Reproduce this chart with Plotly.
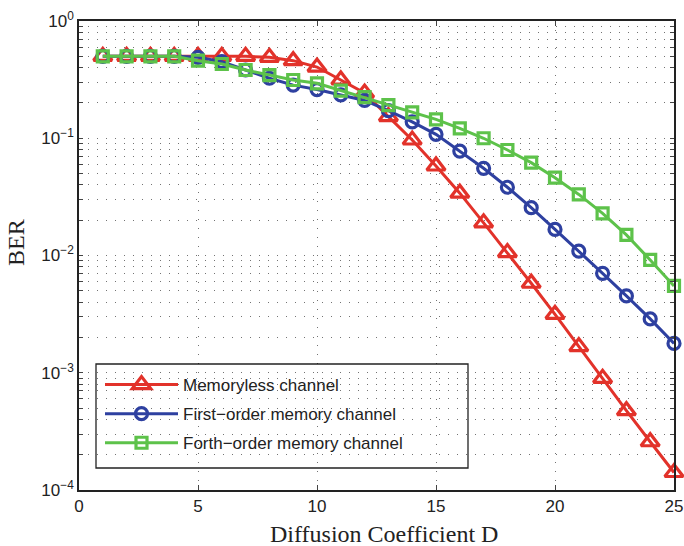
import plotly.graph_objects as go

D = list(range(1, 26))
memoryless = [0.50, 0.50, 0.50, 0.50, 0.50, 0.50, 0.50, 0.49, 0.459, 0.405, 0.314, 0.243,
               0.153, 0.0966, 0.058, 0.034, 0.019, 0.0106, 0.0058, 0.00315, 0.00167,
               0.000897, 0.000475, 0.000258, 0.000141]
first_order = [0.50, 0.50, 0.50, 0.50, 0.49, 0.45, 0.382, 0.325, 0.284, 0.26, 0.234, 0.21,
               0.172, 0.138, 0.108, 0.0778, 0.0554, 0.0382, 0.0256, 0.0167, 0.0109,
               0.00705, 0.00452, 0.00288, 0.00178]
forth_order = [0.50, 0.50, 0.50, 0.50, 0.459, 0.43, 0.382, 0.346, 0.314, 0.294, 0.255, 0.224,
               0.192, 0.166, 0.145, 0.1216, 0.10, 0.0794, 0.0619, 0.0461, 0.0332,
               0.0229, 0.015, 0.00916, 0.0055]

names = ["Memoryless channel", "First−order memory channel", "Forth−order memory channel"]
x_ticks = [0, 5, 10, 15, 20, 25]
y_exponents = [-4, -3, -2, -1, 0]
x_title = "Diffusion Coefficient D"
y_title = "BER"

red, blue, green = "#E2322A", "#2E40A0", "#5DC24A"

fig = go.Figure()
for i, (ys, nm, col, sym, sz) in enumerate([
    (memoryless, names[0], red, "triangle-up-open", 16),
    (first_order, names[1], blue, "circle-open", 12),
    (forth_order, names[2], green, "square-open", 11),
]):
    fig.add_trace(go.Scatter(
        x=D, y=ys, name=nm, mode="lines+markers", cliponaxis=False,
        legendgroup=f"g{i}",
        line=dict(color=col, width=3),
        marker=dict(symbol=sym, size=sz, color=col, line=dict(color=col, width=3.2)),
    ))

# y tick positions incl. minor (2..9 per decade)
tickvals, ticktext = [], []
for e in y_exponents:
    for m in range(1, 10):
        v = m * 10.0 ** e
        if v > 1.0001:
            break
        tickvals.append(v)
        ticktext.append(f"10<sup>{'−' + str(-e) if e < 0 else e}</sup>" if m == 1 else "")

# pixel geometry -> paper fraction; plot spans x 79..674, y 21..490
def px2x(p):
    return (p - 79) / 595.0

def px2y(p):
    return (490 - p) / 469.0

fig.add_shape(type="rect", xref="paper", yref="paper",
              x0=px2x(96), x1=px2x(468), y0=px2y(468), y1=px2y(364),
              line=dict(color="#222", width=1.3), fillcolor="white", layer="between")

title_font = dict(family="Liberation Serif, Times New Roman", size=24, color="#222")
fig.add_annotation(text=x_title, xref="paper", yref="paper", x=px2x(384), y=px2y(534),
                   xanchor="center", yanchor="middle", showarrow=False, font=title_font)
fig.add_annotation(text=y_title, xref="paper", yref="paper", x=px2x(16), y=px2y(243),
                   xanchor="center", yanchor="middle", showarrow=False, textangle=-90,
                   font=title_font)

grid = dict(showgrid=True, gridcolor="rgba(0,0,0,0.55)", griddash="1px,8px", gridwidth=1)

fig.update_layout(
    width=684, height=546,
    margin=dict(l=79, r=10, t=21, b=56, autoexpand=False),
    paper_bgcolor="white", plot_bgcolor="white",
    font=dict(family="Liberation Sans, Arial", size=16, color="#222"),
    showlegend=True,
    legend=dict(
        x=px2x(100), y=px2y(367), xanchor="left", yanchor="top",
        bgcolor="rgba(0,0,0,0)", borderwidth=0,
        font=dict(family="Liberation Sans, Arial", size=17, color="#222"),
        itemwidth=73, tracegroupgap=4,
    ),
    xaxis=dict(
        range=[0, 25], tickvals=x_ticks, ticks="inside", ticklen=5,
        showline=True, linecolor="#222", linewidth=1.5, mirror="ticks",
        zeroline=False, tickfont=dict(size=17), automargin=False, **grid,
    ),
    yaxis=dict(
        type="log", range=[-4, 0], tickvals=tickvals, ticktext=ticktext,
        ticks="inside", ticklen=4,
        showline=True, linecolor="#222", linewidth=1.5, mirror="ticks",
        zeroline=False, tickfont=dict(size=17), automargin=False, **grid,
    ),
)

fig.write_html("out.html")
